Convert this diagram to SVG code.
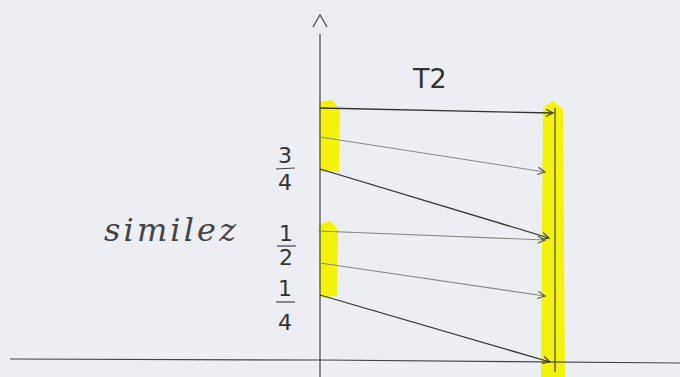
<svg xmlns="http://www.w3.org/2000/svg" width="680" height="377" viewBox="0 0 680 377">
<defs>
<marker id="ah" viewBox="0 0 10 10" refX="9" refY="5" markerWidth="9" markerHeight="9" orient="auto" markerUnits="userSpaceOnUse">
<path d="M1,1 L9,5 L1,9" fill="none" stroke="#444" stroke-width="1.3"/>
</marker>
<marker id="ahg" viewBox="0 0 10 10" refX="9" refY="5" markerWidth="9" markerHeight="9" orient="auto" markerUnits="userSpaceOnUse">
<path d="M1,1 L9,5 L1,9" fill="none" stroke="#555" stroke-width="1.3"/>
</marker>
</defs>
<style>
.hl{fill:#f2f20a}
.ax{stroke:#444;stroke-width:1.2;fill:none}
.dk{stroke:#333;stroke-width:1.3;fill:none}
.lt{stroke:#888;stroke-width:1.1;fill:none}
.t{font-family:"DejaVu Sans",sans-serif;fill:#333;font-size:22px}
.tt{font-family:"DejaVu Sans",sans-serif;fill:#333;font-size:27px}
.hw{font-family:"DejaVu Serif",serif;font-style:italic;fill:#444;font-size:32px}
</style>
<rect width="680" height="377" fill="#eceef4"/>
<g id="highlights">
<path class="hl" d="M319,102 L332,100 L340,110 L339,172 L320,172 Z"/>
<path class="hl" d="M319,225 L330,221 L338,230 L337,296 L320,298 Z"/>
<path class="hl" d="M543,108 L553,101 L563,110 L565,377 L541,377 Z"/>
</g>
<g id="axes">
<path class="ax" d="M320,34 L320,377"/>
<path class="ax" d="M313,27 L320,15 L327,27"/>
<path class="ax" d="M10,359 L320,360 L680,363"/>
<path class="ax" d="M555,108 L555,372"/>
</g>
<g id="connectors">
<path class="dk" d="M320,108 L553,113" marker-end="url(#ah)"/>
<path class="lt" d="M320,137 L545,172" marker-end="url(#ahg)"/>
<path class="dk" d="M320,169 L549,238" marker-end="url(#ah)"/>
<path class="lt" d="M318,231 L545,240" marker-end="url(#ahg)"/>
<path class="lt" d="M320,263 L545,296" marker-end="url(#ahg)"/>
<path class="dk" d="M320,295 L550,362" marker-end="url(#ah)"/>
</g>
<g id="labels">
<text class="tt" x="413" y="88">T2</text>
<text class="t" x="278" y="163">3</text>
<path class="ax" d="M276,169 L295,168"/>
<text class="t" x="278" y="190">4</text>
<text class="t" x="279" y="241">1</text>
<path class="ax" d="M277,246 L296,246"/>
<text class="t" x="279" y="265">2</text>
<text class="t" x="278" y="296">1</text>
<path class="ax" d="M276,302 L295,302"/>
<text class="t" x="278" y="330">4</text>
<text class="hw" x="104" y="241" textLength="132" lengthAdjust="spacing">similez</text>
</g>
</svg>
